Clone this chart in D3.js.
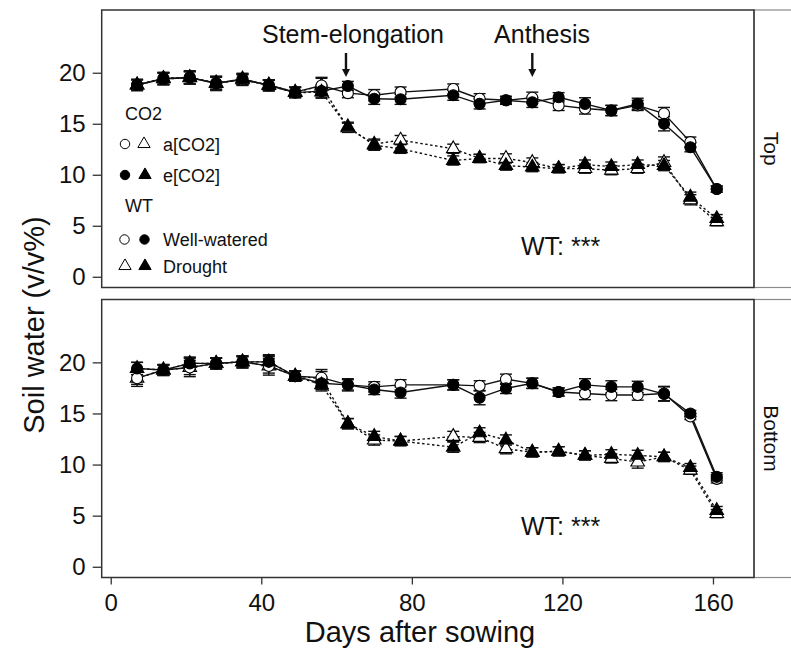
<!DOCTYPE html>
<html>
<head>
<meta charset="utf-8">
<script src="https://cdn.jsdelivr.net/npm/d3@7"></script>
<style>
  body { margin: 0; background: #fff; }
  text { font-family: "Liberation Sans", Arial, sans-serif; fill: #111; }
</style>
</head>
<body>
<div id="chart"></div>
<script>
// sampling days and tick labels
const days = [7, 14, 21, 28, 35, 42, 49, 56, 63, 70, 77, 91, 98, 105, 112, 119, 126, 133, 140, 147, 154, 161];
const xTicks = [0, 40, 80, 120, 160];
const yTicks = [0, 5, 10, 15, 20];
const panelNames = ['Top', 'Bottom'];
const stageNames = ['Stem-elongation', 'Anthesis'];
const stageDays = [62.5, 112];

// Top layer: soil water (v/v%) and SE
const topAmbWW = [18.8, 19.4, 19.5, 19.0, 19.3, 18.8, 18.1, 18.75, 18.0, 17.8, 18.1, 18.4, 17.45, 17.3, 17.55, 16.8, 16.5, 16.3, 16.8, 16.0, 13.2, 8.6];
const topAmbWWErr = [0.55, 0.6, 0.6, 0.65, 0.55, 0.5, 0.5, 0.8, 0.45, 0.55, 0.5, 0.5, 0.5, 0.4, 0.55, 0.5, 0.55, 0.5, 0.5, 0.6, 0.5, 0.3];
const topEleWW = [18.8, 19.45, 19.55, 18.95, 19.4, 18.75, 18.05, 18.2, 18.7, 17.45, 17.4, 17.8, 16.95, 17.3, 17.1, 17.6, 16.95, 16.3, 16.95, 15.0, 12.7, 8.6];
const topEleWWErr = [0.55, 0.6, 0.65, 0.7, 0.55, 0.55, 0.5, 0.6, 0.45, 0.55, 0.5, 0.5, 0.5, 0.35, 0.5, 0.45, 0.6, 0.5, 0.55, 0.7, 0.45, 0.3];
const topAmbD = [18.8, 19.4, 19.5, 19.0, 19.3, 18.8, 18.1, 18.7, 14.6, 13.0, 13.4, 12.55, 11.6, 11.6, 11.2, 10.6, 10.6, 10.45, 10.6, 11.2, 7.55, 5.4];
const topAmbDErr = [0.5, 0.55, 0.6, 0.6, 0.5, 0.5, 0.5, 0.75, 0.45, 0.5, 0.45, 0.45, 0.4, 0.45, 0.45, 0.4, 0.45, 0.45, 0.45, 0.55, 0.5, 0.4];
const topEleD = [18.8, 19.45, 19.55, 18.95, 19.4, 18.75, 18.05, 18.1, 14.7, 12.9, 12.55, 11.4, 11.6, 10.9, 10.75, 10.6, 11.0, 10.8, 11.0, 10.9, 7.8, 5.7];
const topEleDErr = [0.5, 0.55, 0.6, 0.6, 0.5, 0.5, 0.5, 0.6, 0.45, 0.5, 0.45, 0.45, 0.4, 0.45, 0.45, 0.4, 0.45, 0.45, 0.45, 0.5, 0.5, 0.4];

// Bottom layer
const botAmbWW = [18.45, 19.25, 19.5, 19.9, 20.05, 19.65, 18.65, 18.5, 17.8, 17.6, 17.8, 17.8, 17.7, 18.35, 17.95, 17.1, 16.95, 16.8, 16.8, 16.95, 14.7, 8.6];
const botAmbWWErr = [0.8, 0.5, 0.9, 0.55, 0.6, 0.9, 0.5, 0.8, 0.6, 0.5, 0.5, 0.5, 0.5, 0.5, 0.5, 0.4, 0.6, 0.55, 0.5, 0.7, 0.3, 0.4];
const botEleWW = [19.4, 19.25, 19.9, 19.9, 20.05, 20.05, 18.65, 17.95, 17.8, 17.35, 17.05, 17.8, 16.55, 17.45, 17.95, 17.1, 17.8, 17.6, 17.6, 16.9, 15.0, 8.8];
const botEleWWErr = [0.6, 0.55, 0.6, 0.55, 0.6, 0.7, 0.5, 0.6, 0.5, 0.5, 0.55, 0.5, 0.7, 0.5, 0.5, 0.4, 0.6, 0.6, 0.55, 0.7, 0.3, 0.4];
const botAmbD = [18.45, 19.25, 19.5, 19.9, 20.05, 19.65, 18.65, 18.4, 14.0, 12.4, 12.3, 12.75, 12.65, 11.55, 11.2, 11.3, 10.9, 10.6, 10.25, 10.75, 9.45, 5.2];
const botAmbDErr = [0.6, 0.5, 0.7, 0.5, 0.5, 0.7, 0.5, 0.7, 0.5, 0.5, 0.45, 0.5, 0.5, 0.5, 0.45, 0.45, 0.45, 0.45, 0.6, 0.45, 0.4, 0.4];
const botEleD = [19.4, 19.25, 19.9, 19.9, 20.05, 20.05, 18.65, 17.8, 14.0, 12.75, 12.3, 11.7, 13.1, 12.4, 11.2, 11.3, 10.9, 11.0, 10.9, 10.75, 9.7, 5.5];
const botEleDErr = [0.6, 0.5, 0.6, 0.5, 0.5, 0.6, 0.5, 0.6, 0.5, 0.5, 0.45, 0.5, 0.5, 0.5, 0.45, 0.45, 0.45, 0.45, 0.5, 0.45, 0.4, 0.4];

const panelSeries = [
  [
    { co2: 'a', wt: 'D', values: topAmbD, err: topAmbDErr },
    { co2: 'a', wt: 'WW', values: topAmbWW, err: topAmbWWErr },
    { co2: 'e', wt: 'D', values: topEleD, err: topEleDErr },
    { co2: 'e', wt: 'WW', values: topEleWW, err: topEleWWErr }
  ],
  [
    { co2: 'a', wt: 'D', values: botAmbD, err: botAmbDErr },
    { co2: 'a', wt: 'WW', values: botAmbWW, err: botAmbWWErr },
    { co2: 'e', wt: 'D', values: botEleD, err: botEleDErr },
    { co2: 'e', wt: 'WW', values: botEleWW, err: botEleWWErr }
  ]
];

const svg = d3.select('#chart').append('svg')
  .attr('width', 791)
  .attr('height', 651);

const left = 101.7, right = 754;
const panelBox = [[10, 287.5], [299.5, 577.5]];
const x = d3.scaleLinear().domain([-2.4, 170.9]).range([left, right]);

const circle = d3.symbol().type(d3.symbolCircle).size(95);
const triangle = d3.symbol().type(d3.symbolTriangle).size(80);
const shape = s => (s.wt === 'WW' ? circle : triangle);

panelSeries.forEach((series, pi) => {
  const [top, bottom] = panelBox[pi];
  const y = d3.scaleLinear().domain([-1.05, 26.15]).range([bottom, top]);
  const g = svg.append('g');

  // strip on the right
  g.append('rect')
    .attr('x', right).attr('y', top)
    .attr('width', 60).attr('height', bottom - top)
    .attr('fill', '#fff').attr('stroke', '#8a8a8a').attr('stroke-width', 1.2);
  g.append('text')
    .attr('transform', `translate(${right + 17},${(top + bottom) / 2}) rotate(90)`)
    .attr('text-anchor', 'middle')
    .attr('dy', '0.35em')
    .style('font-size', '21px')
    .text(panelNames[pi]);

  const yAxis = g.append('g')
    .attr('transform', `translate(${left},0)`)
    .call(d3.axisLeft(y).tickValues(yTicks).tickSize(9).tickPadding(7).tickSizeOuter(0));
  yAxis.select('.domain').remove();
  yAxis.selectAll('line').attr('stroke', '#333').attr('stroke-width', 1.3);
  yAxis.selectAll('text').style('font-size', '24px').attr('fill', '#111');

  // error bars
  series.forEach(s => {
    const eb = g.append('g').attr('stroke', '#111').attr('stroke-width', 1.4);
    days.forEach((d, i) => {
      const cx = x(d), y0 = y(s.values[i] - s.err[i]), y1 = y(s.values[i] + s.err[i]);
      eb.append('line').attr('x1', cx).attr('x2', cx).attr('y1', y0).attr('y2', y1);
      eb.append('line').attr('x1', cx - 6).attr('x2', cx + 6).attr('y1', y0).attr('y2', y0);
      eb.append('line').attr('x1', cx - 6).attr('x2', cx + 6).attr('y1', y1).attr('y2', y1);
    });
  });

  // lines
  const line = d3.line().x((d, i) => x(days[i])).y(d => y(d));
  series.forEach(s => {
    g.append('path')
      .datum(s.values)
      .attr('d', line)
      .attr('fill', 'none')
      .attr('stroke', '#111')
      .attr('stroke-width', 1.4)
      .attr('stroke-dasharray', s.wt === 'D' ? '2.5,2.5' : null);
  });

  // points
  series.forEach(s => {
    g.selectAll(null)
      .data(s.values)
      .enter()
      .append('path')
      .attr('d', shape(s))
      .attr('transform', (d, i) => `translate(${x(days[i])},${y(d)})`)
      .attr('fill', s.co2 === 'a' ? '#fff' : '#000')
      .attr('stroke', '#000')
      .attr('stroke-width', 1.1);
  });

  g.append('text')
    .attr('x', x(109)).attr('y', y(pi === 0 ? 2.1 : 3.1))
    .style('font-size', '25px')
    .text('WT: ***');

  // panel frame
  g.append('rect')
    .attr('x', left).attr('y', top)
    .attr('width', right - left).attr('height', bottom - top)
    .attr('fill', 'none').attr('stroke', '#333').attr('stroke-width', 1.5);

  if (pi === 1) {
    const xAxis = g.append('g')
      .attr('transform', `translate(0,${bottom})`)
      .call(d3.axisBottom(x).tickValues(xTicks).tickSize(7).tickPadding(9).tickSizeOuter(0));
    xAxis.select('.domain').remove();
    xAxis.selectAll('line').attr('stroke', '#333').attr('stroke-width', 1.3);
    xAxis.selectAll('text').style('font-size', '24px').attr('fill', '#111');
  }
});

// growth stage arrows
stageDays.forEach((d, i) => {
  const ax = x(d);
  svg.append('text')
    .attr('x', i === 0 ? 353 : 542).attr('y', 43)
    .attr('text-anchor', 'middle')
    .style('font-size', '25px')
    .text(stageNames[i]);
  svg.append('line')
    .attr('x1', ax).attr('x2', ax).attr('y1', 53).attr('y2', 71)
    .attr('stroke', '#111').attr('stroke-width', 2.4);
  svg.append('path')
    .attr('d', `M${ax - 4},${69} L${ax + 4},${69} L${ax},${77} Z`)
    .attr('fill', '#111');
});

// legend inside top panel
const legend = svg.append('g').style('font-size', '18px');
legend.append('text').attr('x', 125).attr('y', 120).text('CO2');
legend.append('text').attr('x', 125).attr('y', 211.5).text('WT');
const legendRows = [
  { y: 144, label: 'a[CO2]', marks: [[circle, '#fff', 125], [triangle, '#fff', 144]] },
  { y: 175, label: 'e[CO2]', marks: [[circle, '#000', 125], [triangle, '#000', 145]] },
  { y: 239.5, label: 'Well-watered', marks: [[circle, '#fff', 124.5], [circle, '#000', 144.5]] },
  { y: 266, label: 'Drought', marks: [[triangle, '#fff', 125], [triangle, '#000', 145]] }
];
legendRows.forEach(r => {
  r.marks.forEach(m => {
    legend.append('path')
      .attr('d', m[0].size(m[0] === circle ? 70 : 65)())
      .attr('transform', `translate(${m[2]},${r.y})`)
      .attr('fill', m[1])
      .attr('stroke', '#000')
      .attr('stroke-width', 1);
  });
  legend.append('text').attr('x', 163).attr('y', r.y + 6.5).text(r.label);
});

// axis titles
svg.append('text')
  .attr('x', 420).attr('y', 642)
  .attr('text-anchor', 'middle')
  .style('font-size', '29px')
  .text('Days after sowing');
svg.append('text')
  .attr('transform', 'translate(44,325) rotate(-90)')
  .attr('text-anchor', 'middle')
  .style('font-size', '29px')
  .text('Soil water (v/v%)');
</script>
</body>
</html>
